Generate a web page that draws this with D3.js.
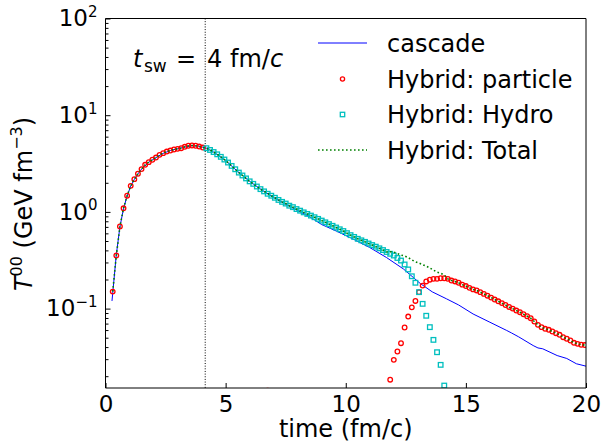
<!DOCTYPE html>
<html><head><meta charset="utf-8">
<script src="https://cdn.jsdelivr.net/npm/d3@7"></script>
<style>body{margin:0;background:#fff}svg{display:block}text{font-family:"DejaVu Sans",sans-serif;fill:#000}</style>
</head><body>
<svg id="c" width="604" height="444"></svg>
<script>
// time grid: t = T0 + DT * k
const T0 = 0.3, DT = 0.15;
// Hybrid: particle, before switching (k = 0..25)
const particleEarly = [0.150,0.354,0.706,1.09,1.47,1.86,2.18,2.48,2.77,3.07,3.27,3.46,3.65,3.89,4.05,4.21,4.31,4.42,4.49,4.56,4.71,4.83,4.86,4.83,4.74,4.63];
const particleEarlyK0 = 0;
// Hybrid: Hydro (k = 26..92)
const hydro = [4.56,4.37,4.16,3.94,3.71,3.48,3.24,2.99,2.76,2.55,2.38,2.22,2.07,1.95,1.83,1.72,1.63,1.54,1.47,1.40,1.33,1.27,1.22,1.16,1.12,1.07,1.03,0.989,0.953,0.916,0.881,0.847,0.813,0.780,0.748,0.718,0.689,0.661,0.634,0.603,0.575,0.551,0.527,0.508,0.490,0.471,0.454,0.437,0.420,0.403,0.385,0.369,0.354,0.334,0.314,0.286,0.254,0.216,0.185,0.148,0.112,0.0843,0.0643,0.0475,0.0354,0.0262,0.0160];
const hydroK0 = 26;
// Hybrid: particle, after switching (k = 77..131)
const particleLate = [0.0184,0.0295,0.0360,0.0439,0.0638,0.0828,0.103,0.120,0.148,0.173,0.191,0.199,0.203,0.203,0.206,0.206,0.203,0.195,0.191,0.185,0.177,0.171,0.164,0.158,0.154,0.148,0.142,0.136,0.130,0.124,0.119,0.114,0.109,0.104,0.100,0.0955,0.0918,0.0875,0.0834,0.0796,0.0736,0.0679,0.0643,0.0618,0.0604,0.0580,0.0557,0.0536,0.0506,0.0488,0.0468,0.0443,0.0432,0.0423,0.0420];
const particleLateK0 = 77;
// stray particle point near the bottom edge
const particleStrayK = [43];
const particleStrayV = [0.0142];
// cascade
const cascadeT = [0.27,0.45,0.6,0.75,0.9,1.05,1.2,1.35,1.5,1.8,2.1,2.4,2.7,3.0,3.3,3.6,3.9,4.2,4.5,5.0,5.5,6.0,6.5,7.0,7.5,8.0,8.5,9.0,9.6,10.3,11.0,11.7,12.4,13.1,13.6,14.2,14.7,15.3,16.0,16.7,16.9,17.2,17.8,18.0,18.2,18.8,19.2,19.6,20.0];
const cascadeV = [0.12,0.36,0.70,1.08,1.46,1.85,2.17,2.47,2.77,3.26,3.64,4.03,4.31,4.50,4.68,4.84,4.78,4.56,4.16,3.40,2.62,2.07,1.69,1.41,1.20,1.03,0.89,0.74,0.635,0.525,0.428,0.337,0.257,0.182,0.149,0.126,0.109,0.088,0.0723,0.0594,0.0560,0.0510,0.0415,0.0392,0.0384,0.0327,0.0305,0.0269,0.0254];
const tSwitch = 4.15;
const xTicks = [0,5,10,15,20];
const yTicks = [0.1,1,10,100];
const yTickExp = ["\u22121","0","1","2"];
const legendLabels = ["cascade","Hybrid: particle","Hybrid: Hydro","Hybrid: Total"];

const colors = {cascade:"#0000ff", particle:"#ff0000", hydro:"#00bfbf", total:"#008000"};

const svg = d3.select("#c");
const L=105.5, R=586, TOP=18.5, B=388;
const x = d3.scaleLinear([0,20],[L,R]);
const y = d3.scaleLog([0.0151,100],[B,TOP]);

// build series
const particle = [];
particleEarly.forEach((v,i)=>particle.push({k:particleEarlyK0+i,v}));
particleStrayK.forEach((k,i)=>particle.push({k,v:particleStrayV[i]}));
particleLate.forEach((v,i)=>particle.push({k:particleLateK0+i,v}));
const hydroPts = hydro.map((v,i)=>({k:hydroK0+i,v}));
const pMap = new Map(particle.map(d=>[d.k,d.v]));
const hMap = new Map(hydroPts.map(d=>[d.k,d.v]));
const allK = Array.from(new Set([...pMap.keys(),...hMap.keys()])).sort((a,b)=>a-b);
const total = allK.map(k=>({k, v:(pMap.get(k)||0)+(hMap.get(k)||0)}));
const tOf = k => T0 + DT*k;

svg.append("defs").append("clipPath").attr("id","clip").append("rect")
  .attr("x",L).attr("y",TOP).attr("width",R-L).attr("height",B-TOP);
const g = svg.append("g").attr("clip-path","url(#clip)");

// vertical switch line
g.append("line").attr("x1",x(tSwitch)).attr("x2",x(tSwitch)).attr("y1",TOP).attr("y2",B)
  .attr("stroke","#000").attr("stroke-width",1).attr("stroke-dasharray","1,1.65");

// cascade
g.append("path").datum(cascadeT.map((t,i)=>[t,cascadeV[i]]))
  .attr("fill","none").attr("stroke",colors.cascade).attr("stroke-width",1)
  .attr("d",d3.line().x(d=>x(d[0])).y(d=>y(d[1])));

// particle circles
g.selectAll("circle.p").data(particle).join("circle").attr("class","p")
  .attr("cx",d=>x(tOf(d.k))).attr("cy",d=>y(d.v)).attr("r",2.3)
  .attr("fill","none").attr("stroke",colors.particle).attr("stroke-width",1.3);

// hydro squares
g.selectAll("rect.h").data(hydroPts).join("rect").attr("class","h")
  .attr("x",d=>x(tOf(d.k))-2.3).attr("y",d=>y(d.v)-2.3).attr("width",4.6).attr("height",4.6)
  .attr("fill","none").attr("stroke",colors.hydro).attr("stroke-width",1.3);

// total
g.append("path").datum(total)
  .attr("fill","none").attr("stroke",colors.total).attr("stroke-width",1.6).attr("stroke-dasharray","1.6,2.4")
  .attr("d",d3.line().x(d=>x(tOf(d.k))).y(d=>y(d.v)));

// axes
const xa = svg.append("g").attr("transform",`translate(0,${B})`)
  .call(d3.axisBottom(x).tickValues(xTicks).tickSize(-5).tickSizeOuter(0).tickPadding(8).tickFormat(d3.format("d")));
xa.select(".domain").remove();
xa.selectAll("text").attr("font-size",23).attr("font-family","DejaVu Sans").attr("fill","#000");
xa.selectAll("line").attr("stroke","#000");

const minor = [];
[0.01,0.1,1,10].forEach(d=>{for(let m=2;m<=9;m++){const v=d*m; if(v>=y.domain()[0]&&v<=100) minor.push(v);}});
const ym = svg.append("g").attr("transform",`translate(${L},0)`)
  .call(d3.axisLeft(y).tickValues(minor).tickSize(-3).tickSizeOuter(0).tickFormat(""));
ym.select(".domain").remove();
ym.selectAll("line").attr("stroke","#000");

const ya = svg.append("g").attr("transform",`translate(${L},0)`)
  .call(d3.axisLeft(y).tickValues(yTicks).tickSize(-5).tickSizeOuter(0).tickPadding(8).tickFormat(""));
ya.select(".domain").remove();
ya.selectAll("line").attr("stroke","#000");
ya.selectAll(".tick").each(function(d,i){
  const t = d3.select(this).select("text").attr("font-size",23).attr("font-family","DejaVu Sans").attr("fill","#000");
  t.text(null);
  t.append("tspan").text("10");
  t.append("tspan").attr("font-size",15).attr("dy","-0.62em").text(yTickExp[i]);
});

// frame
const frame = svg.append("g").attr("stroke","#000").attr("stroke-width",1);
frame.append("line").attr("x1",L).attr("x2",L).attr("y1",TOP).attr("y2",B);
frame.append("line").attr("x1",L).attr("x2",R).attr("y1",TOP).attr("y2",TOP);
frame.append("line").attr("x1",R).attr("x2",R).attr("y1",TOP).attr("y2",B);
frame.append("line").attr("x1",L).attr("x2",R).attr("y1",B).attr("y2",B);

// axis labels
svg.append("text").attr("x",(L+R)/2).attr("y",437).attr("text-anchor","middle").attr("font-size",24).text("time (fm/c)");
const yl = svg.append("text").attr("transform","translate(32,204) rotate(-90)").attr("text-anchor","middle").attr("font-size",24);
yl.append("tspan").attr("font-style","italic").text("T");
yl.append("tspan").attr("font-size",16).attr("dy",-10).text("00");
yl.append("tspan").attr("dy",10).text(" (GeV fm");
yl.append("tspan").attr("font-size",16).attr("dy",-10).text("\u22123");
yl.append("tspan").attr("dy",10).text(")");

// annotation
const an = svg.append("text").attr("y",67).attr("font-size",24);
an.append("tspan").attr("x",133).attr("font-style","italic").text("t");
an.append("tspan").attr("x",144).attr("dy",5).attr("font-size",17).text("sw");
an.append("tspan").attr("x",176).attr("dy",-5).text("=");
an.append("tspan").attr("x",207).text("4");
an.append("tspan").attr("x",230).text("fm/");
an.append("tspan").attr("font-style","italic").text("c");

// legend
const rowsY = [43,79,114.5,150];
const lg = svg.append("g");
legendLabels.forEach((lab,i)=>{
  lg.append("text").attr("x",387).attr("y",rowsY[i]+8.5).attr("font-size",24).text(lab);
});
lg.append("line").attr("x1",318).attr("x2",367).attr("y1",rowsY[0]).attr("y2",rowsY[0]).attr("stroke",colors.cascade).attr("stroke-width",1);
lg.append("circle").attr("cx",342.5).attr("cy",rowsY[1]).attr("r",2.1).attr("fill","none").attr("stroke",colors.particle).attr("stroke-width",1.3);
lg.append("rect").attr("x",342.5-2.2).attr("y",rowsY[2]-2.2).attr("width",4.4).attr("height",4.4).attr("fill","none").attr("stroke",colors.hydro).attr("stroke-width",1.3);
lg.append("line").attr("x1",318).attr("x2",367).attr("y1",rowsY[3]).attr("y2",rowsY[3]).attr("stroke",colors.total).attr("stroke-width",1.6).attr("stroke-dasharray","1.6,2.4");
</script>
</body></html>
